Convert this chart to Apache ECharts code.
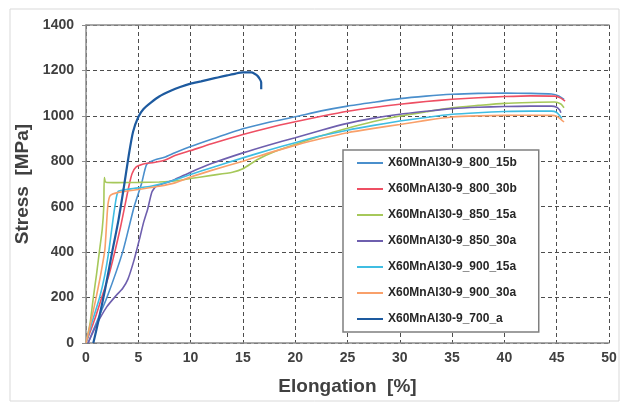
<!DOCTYPE html>
<html>
<head>
<meta charset="utf-8">
<script src="https://cdn.jsdelivr.net/npm/echarts@6/dist/echarts.min.js"></script>
<style>
  html, body { margin: 0; padding: 0; background: #fff; }
  #chart { width: 629px; height: 407px; }
</style>
</head>
<body>
<div id="chart"></div>
<script>
// Series names (legend order)
const seriesNames = [
  'X60MnAl30-9_800_15b',
  'X60MnAl30-9_800_30b',
  'X60MnAl30-9_850_15a',
  'X60MnAl30-9_850_30a',
  'X60MnAl30-9_900_15a',
  'X60MnAl30-9_900_30a',
  'X60MnAl30-9_700_a'
]
const seriesColors = ['#4a8fcc', '#ee4f63', '#a6c85a', '#6e5fae', '#3fbde2', '#f9a06a', '#1d5a9f']

const xTicks = [0, 5, 10, 15, 20, 25, 30, 35, 40, 45, 50]
const yTicks = [0, 200, 400, 600, 800, 1000, 1200, 1400]

// [elongation %, stress MPa]
const s800_15b = [[0.2,0],[1,90],[2,200],[3.5,400],[4.6,600],[5.3,700],[5.8,786],[6.5,805],[7.5,818],[8.5,838],[10,865],[12,897],[15,943],[17.5,972],[20,996],[22.5,1022],[25,1043],[27.5,1060],[30,1076],[32.5,1087],[35,1095],[37.5,1099],[40,1100],[42.5,1099],[44.5,1096],[45.2,1088],[45.7,1072]]
const s800_30b = [[0,0],[0.8,100],[1.5,200],[2.2,300],[2.8,410],[3.3,510],[3.7,600],[4.1,690],[4.4,745],[4.8,775],[5.5,788],[6.5,795],[7.5,805],[8.5,825],[10,847],[12,877],[15,918],[17.5,948],[20,974],[22.5,998],[25,1020],[27.5,1037],[30,1051],[32.5,1063],[35,1073],[37.5,1080],[40,1085],[42.5,1088],[44.8,1087],[45.4,1078],[45.8,1065]]
const s850_15a = [[0,0],[0.4,90],[0.7,200],[1.0,300],[1.3,410],[1.55,500],[1.7,600],[1.75,728],[1.9,708],[3,706],[5,707],[7,709],[8.5,713],[10,724],[12,738],[14,752],[15,767],[16.4,808],[18,842],[20,874],[22.5,912],[25,945],[27.5,975],[30,999],[32.5,1018],[35,1036],[37.5,1046],[40,1055],[42.5,1059],[44.8,1061],[45.4,1052],[45.7,1036]]
const s850_30a = [[0.2,0],[1,80],[2,160],[2.9,210],[3.5,240],[4,280],[4.6,366],[5.1,455],[5.5,530],[5.9,590],[6.3,665],[6.7,690],[7.5,703],[8.5,720],[10,752],[12,790],[15,837],[17.5,872],[20,904],[22.5,937],[25,967],[27.5,990],[30,1007],[32.5,1020],[35,1032],[37.5,1038],[40,1041],[42.5,1043],[44.5,1043],[45,1038],[45.3,1025],[45.4,1014]]
const s900_15a = [[0,0],[0.5,80],[1.3,200],[1.8,300],[2.2,410],[2.6,550],[2.9,640],[3.1,668],[4,677],[5,683],[6.2,690],[8.1,712],[10,742],[12,772],[15,815],[17.5,850],[20,882],[22.5,912],[25,937],[27.5,958],[30,977],[32.5,993],[35,1007],[37.5,1014],[40,1019],[42.5,1021],[44.5,1021],[45,1015],[45.3,1000],[45.5,988]]
const s900_30a = [[0,0],[0.5,100],[0.97,200],[1.4,300],[1.8,410],[2.0,550],[2.1,610],[2.3,648],[3,662],[5,676],[7,690],[8.5,705],[10,731],[12,760],[15,800],[17.5,837],[20,870],[22.5,900],[25,926],[27.5,945],[30,962],[32.5,980],[35,995],[37.5,1000],[40,1002],[42.5,1003],[44.5,1002],[45,998],[45.4,985],[45.7,973]]
const s700_a = [[0.7,0],[1.2,100],[1.8,230],[2.5,400],[3.1,540],[3.6,680],[4.1,830],[4.5,930],[5,995],[5.5,1030],[6.2,1058],[7,1085],[8.1,1110],[9,1127],[10,1142],[11,1152],[12,1163],[12.6,1169],[13.5,1178],[14.3,1186],[15,1191],[15.8,1191],[16.4,1176],[16.75,1147],[16.75,1117]]

const seriesData = [s800_15b, s800_30b, s850_15a, s850_30a, s900_15a, s900_30a, s700_a]

const chart = echarts.init(document.getElementById('chart'), null, { renderer: 'canvas' })

const labelFont = { color: '#404040', fontWeight: 'bold', fontSize: 14, fontFamily: 'Liberation Sans' }
const gridDash = { color: '#4d4d4d', type: [4, 3], width: 1 }

const option = {
  backgroundColor: '#ffffff',
  animation: false,
  graphic: [{
    type: 'rect',
    shape: { x: 10, y: 9, width: 609, height: 392 },
    style: { fill: 'none', stroke: '#d9d9d9', lineWidth: 1 },
    z: -1
  }],
  grid: { left: 86, right: 20, top: 25, bottom: 64 },
  legend: {
    data: seriesNames,
    orient: 'vertical',
    left: 343,
    top: 150,
    icon: 'rect',
    itemWidth: 26,
    itemHeight: 2,
    itemGap: 12,
    padding: [6, 22, 6, 14],
    backgroundColor: '#ffffff',
    borderColor: '#7f7f7f',
    borderWidth: 1.5,
    textStyle: { color: '#262626', fontSize: 12, fontWeight: 'bold', fontFamily: 'Liberation Sans', lineHeight: 14 }
  },
  xAxis: [{
    type: 'value',
    min: xTicks[0],
    max: xTicks[xTicks.length - 1],
    interval: 5,
    name: 'Elongation  [%]',
    nameLocation: 'middle',
    nameGap: 34,
    nameTextStyle: { color: '#404040', fontWeight: 'bold', fontSize: 19, fontFamily: 'Liberation Sans' },
    axisLine: { show: true, lineStyle: { color: '#8c8c8c', width: 1.5 } },
    axisTick: { show: false },
    axisLabel: Object.assign({ margin: 8 }, labelFont),
    splitLine: { show: true, lineStyle: gridDash }
  }, {
    type: 'value',
    position: 'top',
    min: xTicks[0],
    max: xTicks[xTicks.length - 1],
    axisLine: { show: true, lineStyle: { color: '#8c8c8c', width: 1.5 } },
    axisTick: { show: false },
    axisLabel: { show: false },
    splitLine: { show: false }
  }],
  yAxis: {
    type: 'value',
    min: yTicks[0],
    max: yTicks[yTicks.length - 1],
    interval: 200,
    name: 'Stress  [MPa]',
    nameLocation: 'middle',
    nameGap: 47,
    nameTextStyle: { color: '#404040', fontWeight: 'bold', fontSize: 19, fontFamily: 'Liberation Sans' },
    axisLine: { show: true, lineStyle: { color: '#8c8c8c', width: 1.5 } },
    axisTick: { show: true, length: 4, lineStyle: { color: '#8c8c8c' } },
    axisLabel: Object.assign({ margin: 12, formatter: v => String(v) }, labelFont),
    splitLine: { show: true, lineStyle: gridDash }
  },
  series: seriesNames.map((name, i) => ({
    name: name,
    type: 'line',
    data: seriesData[i],
    showSymbol: false,
    symbol: 'none',
    smooth: 0.2,
    color: seriesColors[i],
    lineStyle: { color: seriesColors[i], width: i === 6 ? 2.2 : 1.6 },
    z: i === 6 ? 3 : 2
  }))
}

chart.setOption(option)
</script>
</body>
</html>
